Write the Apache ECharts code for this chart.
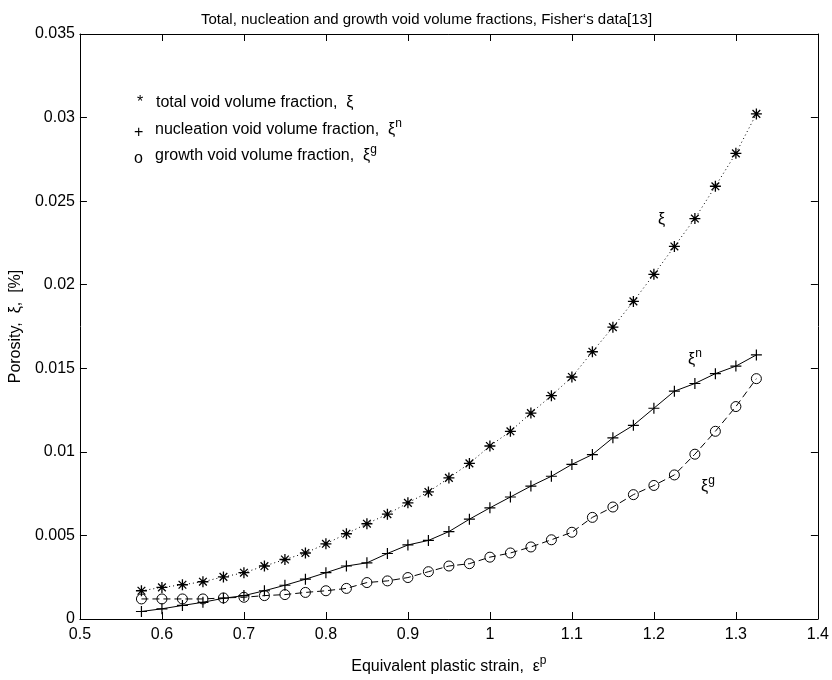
<!DOCTYPE html>
<html><head><meta charset="utf-8">
<script src="https://cdn.jsdelivr.net/npm/echarts@6/dist/echarts.min.js"></script>
<style>html,body{margin:0;padding:0;background:#fff}#c{width:832px;height:680px}</style>
</head><body><div id="c"></div>
<script>
const strain = [0.575,0.6,0.625,0.65,0.675,0.7,0.725,0.75,0.775,0.8,0.825,0.85,0.875,0.9,0.925,0.95,0.975,1.0,1.025,1.05,1.075,1.1,1.125,1.15,1.175,1.2,1.225,1.25,1.275,1.3,1.325];
const total = [0.00169,0.00189,0.00205,0.00223,0.00252,0.00277,0.00317,0.00356,0.00395,0.0045,0.0051,0.0057,0.00627,0.00695,0.0076,0.00844,0.00931,0.01035,0.01123,0.01232,0.01336,0.01448,0.01599,0.01746,0.019,0.02062,0.02229,0.02396,0.02589,0.02786,0.03022];
const nucleation = [0.00045,0.00061,0.00081,0.001,0.00124,0.0014,0.00169,0.00202,0.00238,0.00277,0.00317,0.00336,0.00392,0.00443,0.0047,0.00523,0.00597,0.00665,0.0073,0.00795,0.00854,0.00925,0.00984,0.01084,0.01159,0.01261,0.01363,0.01409,0.01468,0.01513,0.0158];
const growth = [0.0012,0.0012,0.0012,0.0012,0.00126,0.0013,0.0014,0.00146,0.00159,0.00169,0.00183,0.00218,0.00228,0.00248,0.00283,0.00317,0.00331,0.0037,0.00395,0.00431,0.00474,0.00519,0.00608,0.0067,0.00744,0.00799,0.00862,0.00986,0.01123,0.01271,0.01438];
const xTicks = {min:0.5, max:1.4, interval:0.1};
const yTicks = {min:0, max:0.035, interval:0.005};

const FONT = "'Liberation Sans', Arial, Helvetica, sans-serif";
const pairs = arr => strain.map((x,i)=>[x, arr[i]]);
const STAR = 'path://M5,0L5,10M0,5L10,5M1.5,1.5L8.5,8.5M1.5,8.5L8.5,1.5';
const PLUS = 'path://M5,0L5,10M0,5L10,5';

const chart = echarts.init(document.getElementById('c'), null, {renderer:'canvas'});
const axisCommon = {
  axisLine:{show:true, onZero:false, lineStyle:{color:'#000', width:1}},
  axisTick:{show:true, inside:true, length:7, lineStyle:{color:'#000'}},
  splitLine:{show:false}
};
const SUP = {font:'12px '+FONT, fill:'#000', padding:[0,0,12,0]};
chart.setOption({
  animation:false,
  backgroundColor:'#fff',
  title:{text:"Total, nucleation and growth void volume fractions, Fisher‘s data[13]", left:196, top:7,
    textStyle:{fontFamily:FONT, fontSize:15, fontWeight:'normal', color:'#000'}},
  grid:{left:78, right:13, top:34, bottom:53},
  xAxis:[
    Object.assign({type:'value', position:'bottom', min:xTicks.min, max:xTicks.max, interval:xTicks.interval,
      name:'Equivalent plastic strain,  ε{p|p}', nameLocation:'middle', nameGap:36,
      nameTextStyle:{fontFamily:FONT, fontSize:16, color:'#000', rich:{p:{fontFamily:FONT, fontSize:12, color:'#000', padding:[0,0,12,0]}}},
      axisLabel:{fontFamily:FONT, fontSize:16, color:'#000', margin:8}}, axisCommon),
    Object.assign({type:'value', position:'top', min:xTicks.min, max:xTicks.max, interval:xTicks.interval,
      axisLabel:{show:false}}, axisCommon)
  ],
  yAxis:[
    Object.assign({type:'value', position:'left', min:yTicks.min, max:yTicks.max, interval:yTicks.interval,
      name:'Porosity,  ξ,  [%]', nameLocation:'middle', nameGap:54,
      nameTextStyle:{fontFamily:FONT, fontSize:16, color:'#000'},
      axisLabel:{fontFamily:FONT, fontSize:16, color:'#000', margin:5}}, axisCommon),
    Object.assign({type:'value', position:'right', min:yTicks.min, max:yTicks.max, interval:yTicks.interval,
      axisLabel:{show:false}}, axisCommon)
  ],
  series:[
    {type:'line', name:'total', data:pairs(total), symbol:STAR, symbolSize:11,
      lineStyle:{color:'#000', width:1, type:[1,3]},
      itemStyle:{color:'rgba(0,0,0,0)', borderColor:'#000', borderWidth:1.3}},
    {type:'line', name:'nucleation', data:pairs(nucleation), symbol:PLUS, symbolSize:11,
      lineStyle:{color:'#000', width:1, type:'solid'},
      itemStyle:{color:'rgba(0,0,0,0)', borderColor:'#000', borderWidth:1.2}},
    {type:'line', name:'growth', data:pairs(growth), symbol:'circle', symbolSize:10,
      lineStyle:{color:'#000', width:1, type:[7,4]},
      itemStyle:{color:'rgba(0,0,0,0)', borderColor:'#000', borderWidth:1}}
  ],
  graphic:[
    {type:'text', left:137, top:95, style:{text:'*', font:'16px '+FONT, fill:'#000'}},
    {type:'text', left:156, top:95, style:{text:'total void volume fraction,  ξ', font:'16px '+FONT, fill:'#000'}},
    {type:'text', left:134, top:125, style:{text:'+', font:'16px '+FONT, fill:'#000'}},
    {type:'text', left:155, top:118, style:{text:'nucleation void volume fraction,  ξ{s|n}', font:'16px '+FONT, fill:'#000', rich:{s:SUP}}},
    {type:'text', left:134, top:151, style:{text:'o', font:'16px '+FONT, fill:'#000'}},
    {type:'text', left:155, top:144, style:{text:'growth void volume fraction,  ξ{s|g}', font:'16px '+FONT, fill:'#000', rich:{s:SUP}}},
    {type:'text', left:658, top:212, style:{text:'ξ', font:'16px '+FONT, fill:'#000'}},
    {type:'text', left:688, top:348, style:{text:'ξ{s|n}', font:'16px '+FONT, fill:'#000', rich:{s:SUP}}},
    {type:'text', left:701, top:475, style:{text:'ξ{s|g}', font:'16px '+FONT, fill:'#000', rich:{s:SUP}}}
  ]
});
</script></body></html>
